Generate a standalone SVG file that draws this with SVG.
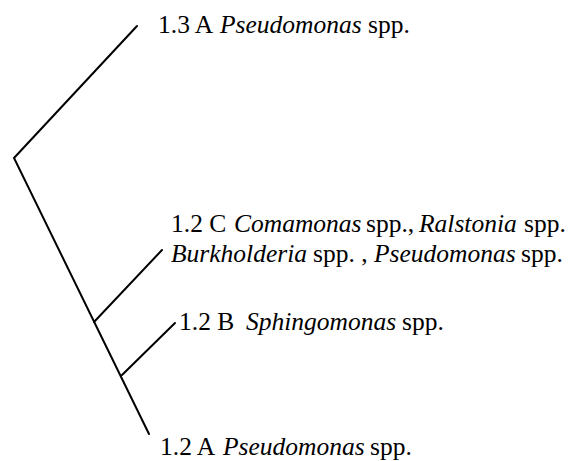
<svg xmlns="http://www.w3.org/2000/svg" width="581" height="461" viewBox="0 0 581 461">
<style>
.l{stroke:#000;stroke-width:2;fill:none;stroke-linecap:round}
</style>
<rect width="581" height="461" fill="#fff"/>
<g id="connectors">
<path class="l" d="M137,26 L14,158 L149,434"/>
<path class="l" d="M94,322 L162,250"/>
<path class="l" d="M122,375 L175,323"/>
</g>
<g id="n13A">
<text x="158" y="33" font-family="Liberation Serif" font-size="25.5">1.3 A</text>
<text x="220" y="33" font-family="Liberation Serif" font-style="italic" font-size="25.5">Pseudomonas</text>
<text x="368" y="33" font-family="Liberation Serif" font-size="25.5">spp.</text>
</g>
<g id="n12C">
<text x="171" y="232" font-family="Liberation Serif" font-size="25.5">1.2 C</text>
<text x="234" y="232" font-family="Liberation Serif" font-style="italic" font-size="25.5">Comamonas</text>
<text x="366" y="232" font-family="Liberation Serif" font-size="25.5">spp.,</text>
<text x="419" y="232" font-family="Liberation Serif" font-style="italic" font-size="25.5">Ralstonia</text>
<text x="524" y="232" font-family="Liberation Serif" font-size="25.5">spp.</text>
<text x="171" y="262" font-family="Liberation Serif" font-style="italic" font-size="25.5">Burkholderia</text>
<text x="313" y="262" font-family="Liberation Serif" font-size="25.5">spp. ,</text>
<text x="374" y="262" font-family="Liberation Serif" font-style="italic" font-size="25.5">Pseudomonas</text>
<text x="521" y="262" font-family="Liberation Serif" font-size="25.5">spp.</text>
</g>
<g id="n12B">
<text x="179" y="330" font-family="Liberation Serif" font-size="25.5">1.2 B</text>
<text x="246" y="330" font-family="Liberation Serif" font-style="italic" font-size="25.5">Sphingomonas</text>
<text x="402" y="330" font-family="Liberation Serif" font-size="25.5">spp.</text>
</g>
<g id="n12A">
<text x="160" y="455" font-family="Liberation Serif" font-size="25.5">1.2 A</text>
<text x="223" y="455" font-family="Liberation Serif" font-style="italic" font-size="25.5">Pseudomonas</text>
<text x="370" y="455" font-family="Liberation Serif" font-size="25.5">spp.</text>
</g>
</svg>
